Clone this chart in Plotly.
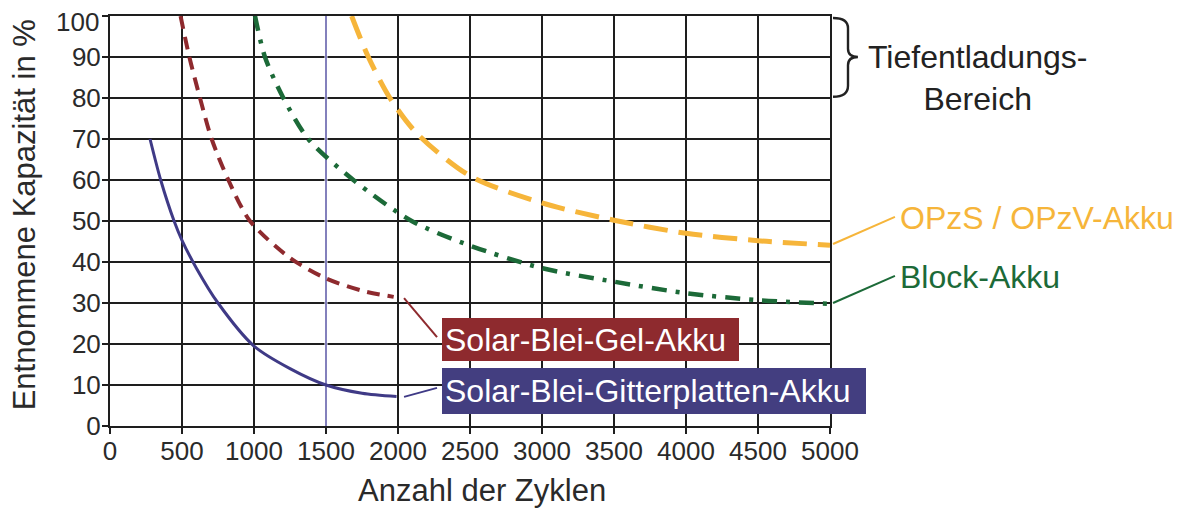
import plotly.graph_objects as go

# ---------------- data ----------------
x_ticks = [0, 500, 1000, 1500, 2000, 2500, 3000, 3500, 4000, 4500, 5000]
y_ticks = [0, 10, 20, 30, 40, 50, 60, 70, 80, 90, 100]

gitter_x = [278, 352, 445, 500, 600, 750, 1000, 1250, 1500, 1750, 1990]
gitter_y = [70, 60, 50, 45.3, 38.5, 30, 19.5, 14, 10, 8, 7.2]

gel_x = [490, 551, 625, 706, 822, 972, 1250, 1500, 1750, 1970]
gel_y = [100, 90, 80, 70, 60, 50, 41, 36, 33, 31.5]

block_x = [1007, 1076, 1204, 1377, 1690, 2095, 2500, 3000, 3500, 4000, 4500, 5000]
block_y = [100, 90, 80, 70, 60, 50, 44, 38.5, 35.2, 32.4, 30.7, 29.8]

opzs_x = [1678, 1794, 1944, 2130, 2500, 3000, 3500, 4000, 4500, 5000]
opzs_y = [100, 90, 80, 71.4, 61, 54.4, 50.2, 47, 45.2, 44.1]

marker_line_x = 1500
deep_discharge_range = [80, 100]

labels = {
    "opzs": "OPzS / OPzV-Akku",
    "block": "Block-Akku",
    "gel": "Solar-Blei-Gel-Akku",
    "gitter": "Solar-Blei-Gitterplatten-Akku",
    "deep": "Tiefentladungs-<br>Bereich",
    "xtitle": "Anzahl der Zyklen",
    "ytitle": "Entnommene Kapazität in %",
}

# ---------------- styles ----------------
C_GITTER = "#3f3a86"
C_GITTER_BOX = "#433e80"
C_GEL = "#8e2a2e"
C_BLOCK = "#1c6a38"
C_OPZS = "#f6b53a"
C_TEXT = "#2a2a2a"
FONT = "Liberation Sans, Arial, sans-serif"

X0, X1 = x_ticks[0], x_ticks[-1]
Y0, Y1 = y_ticks[0], y_ticks[-1]


def px(v):
    return (v - X0) / (X1 - X0)


def py(v):
    return (v - Y0) / (Y1 - Y0)


fig = go.Figure()

fig.add_trace(go.Scatter(x=gitter_x, y=gitter_y, mode="lines",
                         line=dict(color=C_GITTER, width=3, shape="spline", smoothing=0.8),
                         showlegend=False, hoverinfo="skip"))
fig.add_trace(go.Scatter(x=gel_x, y=gel_y, mode="lines",
                         line=dict(color=C_GEL, width=4, shape="spline", smoothing=0.8,
                                   dash="13px,8px"),
                         showlegend=False, hoverinfo="skip"))
fig.add_trace(go.Scatter(x=block_x, y=block_y, mode="lines",
                         line=dict(color=C_BLOCK, width=4.5, shape="spline", smoothing=0.8,
                                   dash="15px,9px,4px,9px"),
                         showlegend=False, hoverinfo="skip"))
fig.add_trace(go.Scatter(x=opzs_x, y=opzs_y, mode="lines",
                         line=dict(color=C_OPZS, width=5, shape="spline", smoothing=0.8,
                                   dash="24px,11px"),
                         showlegend=False, hoverinfo="skip"))

shapes = []
# blue marker line at 1500 cycles (between grid and traces)
shapes.append(dict(type="line", xref="x", yref="y", x0=marker_line_x, x1=marker_line_x,
                   y0=Y0, y1=Y1, layer="between",
                   line=dict(color="white", width=3)))
shapes.append(dict(type="line", xref="x", yref="y", x0=marker_line_x, x1=marker_line_x,
                   y0=Y0, y1=Y1, layer="between",
                   line=dict(color="#5a56a6", width=1.5)))

# curly brace for deep discharge range (paper coords, outside the plot)
lo, hi = deep_discharge_range
mid = (lo + hi) / 2
bx0, bx1, bx2 = px(5021), px(5125), px(5194)
pts = {k: py(v) for k, v in dict(top=hi - 0.5, t2=hi - 3, m1=mid + 2, m=mid,
                                    m2=mid - 2, b2=lo + 3, bot=lo + 0.3).items()}
brace = (f"M {bx0},{pts['top']} Q {bx1},{pts['top']} {bx1},{pts['t2']} L {bx1},{pts['m1']} "
         f"Q {bx1},{pts['m']} {bx2},{pts['m']} Q {bx1},{pts['m']} {bx1},{pts['m2']} "
         f"L {bx1},{pts['b2']} Q {bx1},{pts['bot']} {bx0},{pts['bot']}")
shapes.append(dict(type="path", xref="paper", yref="paper", path=brace,
                   line=dict(color="#222222", width=2.4)))

# leader lines (curve end -> label), in paper coords
leaders = [
    (C_OPZS, 5021, 44.4, 5451, 51.0),
    (C_BLOCK, 5021, 30.0, 5451, 36.6),
    (C_GEL, 2042, 31.2, 2271, 21.7),
    (C_GITTER, 2042, 7.1, 2271, 9.3),
]
for col, x0, y0, x1, y1 in leaders:
    shapes.append(dict(type="line", xref="paper", yref="paper",
                       x0=px(x0), y0=py(y0), x1=px(x1), y1=py(y1),
                       line=dict(color=col, width=2)))

# top tick label is nudged down inside the figure (as in the reference)
y_ticktext = [str(v) for v in y_ticks[:-1]] + [""]

annotations = [
    dict(x=0, y=1, xref="paper", yref="paper", text=str(y_ticks[-1]),
         showarrow=False, xanchor="right", yanchor="middle", xshift=-9, yshift=-6,
         font=dict(family=FONT, size=26, color=C_TEXT)),
    dict(x=px(5472), y=py(50.7), xref="paper", yref="paper", text=labels["opzs"],
         showarrow=False, xanchor="left", yanchor="middle",
         font=dict(family=FONT, size=32, color=C_OPZS)),
    dict(x=px(5472), y=py(36.3), xref="paper", yref="paper", text=labels["block"],
         showarrow=False, xanchor="left", yanchor="middle",
         font=dict(family=FONT, size=32, color=C_BLOCK)),
    dict(x=px(6021), y=py(84.9), xref="paper", yref="paper", text=labels["deep"],
         showarrow=False, xanchor="center", yanchor="middle", align="center",
         font=dict(family=FONT, size=32, color="#222222")),
    dict(x=px(2306), y=py(21.1), xref="paper", yref="paper", text=labels["gel"],
         showarrow=False, xanchor="left", yanchor="middle", align="left", bgcolor=C_GEL,
         borderpad=3, borderwidth=0, width=291, height=37,
         font=dict(family=FONT, size=32, color="white")),
    dict(x=px(2306), y=py(8.5), xref="paper", yref="paper", text=labels["gitter"],
         showarrow=False, xanchor="left", yanchor="middle", align="left",
         bgcolor=C_GITTER_BOX, borderpad=3, borderwidth=0, width=418, height=40,
         font=dict(family=FONT, size=32, color="white")),
    # axis titles
    dict(x=0.5167, y=-0.158, xref="paper", yref="paper", text=labels["xtitle"],
         showarrow=False, xanchor="center", yanchor="middle",
         font=dict(family=FONT, size=31, color=C_TEXT)),
    dict(x=-0.119, y=0.5146, xref="paper", yref="paper", text=labels["ytitle"],
         showarrow=False, xanchor="center", yanchor="middle", textangle=-90,
         font=dict(family=FONT, size=31, color=C_TEXT)),
]

# page body has an 8px default margin -> figure is 8px smaller and shifted
fig.update_layout(
    width=1177, height=500,
    margin=dict(l=102, r=355, t=8, b=82),
    paper_bgcolor="white", plot_bgcolor="white",
    font=dict(family=FONT, color=C_TEXT),
    shapes=shapes, annotations=annotations,
)
fig.update_xaxes(
    range=[X0, X1], tickvals=x_ticks, ticktext=[str(v) for v in x_ticks],
    showgrid=True, gridcolor="#1e1e1e", gridwidth=2,
    showline=True, linecolor="#1e1e1e", linewidth=2, mirror=True,
    ticks="outside", ticklen=6, tickwidth=2, tickcolor="#1e1e1e",
    tickfont=dict(family=FONT, size=26, color=C_TEXT), ticklabelstandoff=-5,
    zeroline=False, automargin=False,
)
fig.update_yaxes(
    range=[Y0, Y1], tickvals=y_ticks, ticktext=y_ticktext,
    showgrid=True, gridcolor="#1e1e1e", gridwidth=2,
    showline=True, linecolor="#1e1e1e", linewidth=2, mirror=True,
    ticks="outside", ticklen=6, tickwidth=2, tickcolor="#1e1e1e",
    tickfont=dict(family=FONT, size=26, color=C_TEXT), ticklabelstandoff=-4,
    zeroline=False, automargin=False,
)

fig.write_html("out.html")
